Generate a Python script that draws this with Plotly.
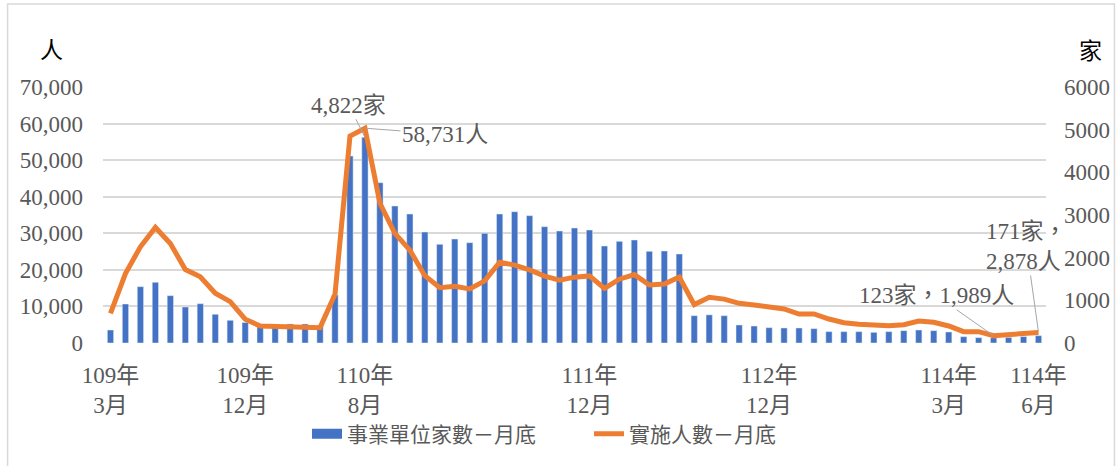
import plotly.graph_objects as go

# ---- data ----
tick_pos = [0, 9, 17, 32, 44, 56, 62]
tick_labels = ["109年<br>3月", "109年<br>12月", "110年<br>8月", "111年<br>12月",
               "112年<br>12月", "114年<br>3月", "114年<br>6月"]

units = [305, 914, 1320, 1423, 1109, 844, 921, 673, 532, 480,
         390, 390, 445, 445, 400, 1125, 4383, 4822, 3757, 3211,
         3023, 2601, 2313, 2437, 2351, 2571, 3023, 3077, 2984, 2726,
         2625, 2695, 2648, 2273, 2383, 2414, 2149, 2156, 2086, 640,
         660, 640, 422, 398, 359, 352, 352, 336, 266, 266,
         266, 250, 266, 289, 305, 289, 258, 148, 125, 123,
         130, 150, 171]

people = [8100, 19000, 26300, 31600, 27200, 20100, 18100, 13600, 11300, 6500,
          4650, 4500, 4450, 4300, 4200, 13300, 56600, 58731, 38200, 30000,
          25400, 18400, 15100, 15500, 14800, 17000, 22100, 21300, 20000, 18300,
          17200, 18000, 18350, 14950, 17450, 18700, 15850, 16100, 18050, 10500,
          12500, 12000, 10850, 10390, 9930, 9300, 7930, 7930, 6560, 5560,
          5100, 4830, 4740, 5010, 6020, 5650, 4650, 3100, 3100, 1989,
          2190, 2700, 2878]

x = list(range(len(units)))

bar_name = "事業單位家數－月底"
line_name = "實施人數－月底"

FONT = "Liberation Serif, Noto Sans CJK TC, serif"
GRAY = "#595959"
BLUE = "#4472C4"
ORANGE = "#ED7D31"

fig = go.Figure()
fig.add_trace(go.Bar(x=x, y=units, name=bar_name, marker_color=BLUE,
                     yaxis="y", showlegend=False))
# legend proxy for bar (wide rectangle look)
fig.add_trace(go.Scatter(x=[None], y=[None], mode="lines", name=bar_name,
                         line=dict(color=BLUE, width=10), yaxis="y"))
fig.add_trace(go.Scatter(x=x, y=people, name=line_name, mode="lines",
                         line=dict(color=ORANGE, width=5), yaxis="y2"))

W, H = 1118, 466
L, R, T, B = 102.5, 1046.5, 87, 343

annos = []
# axis unit labels
annos.append(dict(text="人", xref="paper", yref="paper",
                  x=(51 - L) / (R - L), y=(B - 50) / (B - T),
                  xanchor="center", yanchor="middle",
                  showarrow=False, font=dict(size=23, color="black", family=FONT)))
annos.append(dict(text="家", xref="paper", yref="paper",
                  x=(1091 - L) / (R - L), y=(B - 51) / (B - T),
                  xanchor="center", yanchor="middle",
                  showarrow=False, font=dict(size=23, color="black", family=FONT)))

i_peak = units.index(max(units))
i_last = len(units) - 1
i_min = people.index(min(people))

def lab(txt, xi, yv, yref, ax, ay, align="center"):
    return dict(text=txt, x=xi, y=yv, xref="x", yref=yref, ax=ax, ay=ay,
                showarrow=True, arrowhead=0, arrowwidth=1, arrowcolor="#A6A6A6",
                standoff=1, align=align,
                font=dict(size=23, color=GRAY, family=FONT))

annos.append(lab(f"{units[i_peak]:,}家", i_peak, units[i_peak], "y", -16, -32))
annos.append(lab(f"{people[i_peak]:,}人", i_peak, people[i_peak], "y2", 80, 6))
annos.append(lab(f"{units[i_min]}家，{people[i_min]:,}人", i_min, people[i_min], "y2", -57, -40))
annos.append(lab(f"{units[i_last]}家，<br>{people[i_last]:,}人", i_last, people[i_last], "y2",
                 -12, -86, align="left"))

fig.update_layout(
    width=W, height=H,
    margin=dict(l=L, r=W - R, t=T, b=H - B, pad=0, autoexpand=False),
    paper_bgcolor="white", plot_bgcolor="white",
    font=dict(family=FONT, size=23, color=GRAY),
    bargap=0.58,
    xaxis=dict(range=[-0.5, len(units) - 0.5], tickmode="array",
               tickvals=tick_pos, ticktext=tick_labels, showgrid=False,
               zeroline=False, showline=False, ticks="",
               ticklabelstandoff=16,
               tickfont=dict(size=23, color=GRAY, family=FONT)),
    yaxis=dict(range=[0, 6000], side="right", tickvals=[0, 1000, 2000, 3000, 4000, 5000, 6000],
               showgrid=False, zeroline=False, showline=False, ticks="",
               ticklabelstandoff=17,
               tickfont=dict(size=23, color=GRAY, family=FONT)),
    yaxis2=dict(range=[0, 70000], side="left", overlaying="y",
                tickvals=[0, 10000, 20000, 30000, 40000, 50000, 60000, 70000],
                tickformat=",", showgrid=True, gridcolor="#D9D9D9", gridwidth=1.5,
                zeroline=False, showline=False, ticks="",
                ticklabelstandoff=19,
                tickfont=dict(size=23, color=GRAY, family=FONT)),
    legend=dict(orientation="h", xref="container", yref="container",
                x=307 / W, y=1 - 434 / H, xanchor="left", yanchor="middle",
                font=dict(size=21, color=GRAY, family=FONT),
                itemwidth=30, entrywidth=237, entrywidthmode="pixels",
                bgcolor="rgba(0,0,0,0)"),
    annotations=annos,
    shapes=[dict(type="rect", xref="paper", yref="paper",
                 x0=(7 - L) / (R - L), x1=(1115 - L) / (R - L),
                 y0=(B - 470) / (B - T), y1=(B - 4) / (B - T),
                 line=dict(color="#D9D9D9", width=1.5), layer="below")],
)

fig.write_html("out.html")
